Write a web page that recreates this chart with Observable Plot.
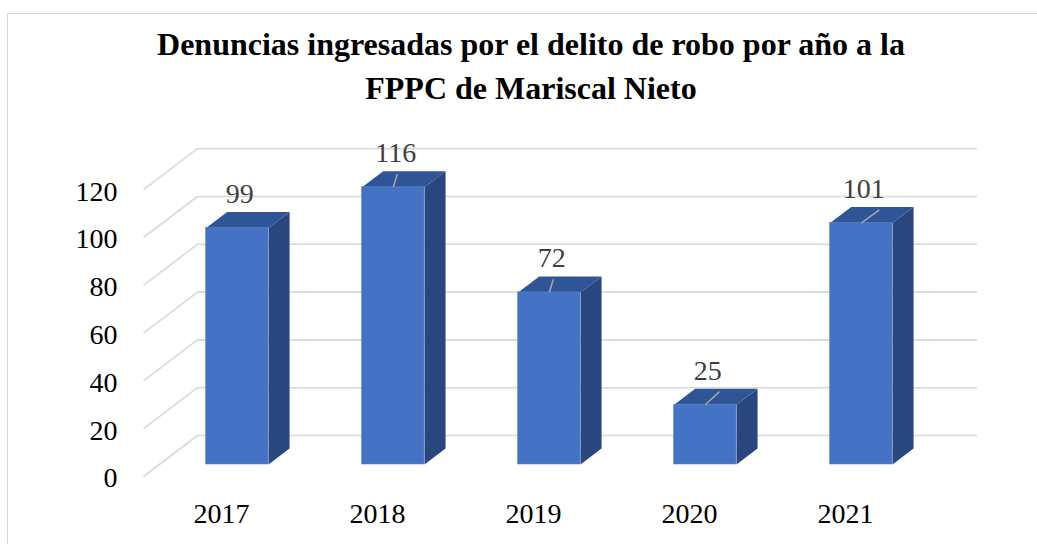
<!DOCTYPE html>
<html>
<head>
<meta charset="utf-8">
<script src="https://cdn.jsdelivr.net/npm/d3@7"></script>
<script src="https://cdn.jsdelivr.net/npm/@observablehq/plot@0.6"></script>
<style>
  html, body { margin: 0; padding: 0; background: #fff; overflow: hidden; }
  #wrap { position: relative; width: 1037px; height: 544px; overflow: hidden; }
  #frame { position: absolute; left: 7px; top: 13px; width: 1200px; height: 700px; border: 1px solid #d9d9d9; }
  #title { position: absolute; left: 31px; top: 22px; width: 1000px; text-align: center;
           font-family: "Liberation Serif", "Times New Roman", Tinos, "DejaVu Serif", serif; font-weight: bold;
           font-size: 32px; line-height: 44px; color: #000; }
  #chart { position: absolute; left: 0; top: 0; }
</style>
</head>
<body>
<div id="wrap">
  <div id="frame"></div>
  <div id="title">Denuncias ingresadas por el delito de robo por año a la<br>FPPC de Mariscal Nieto</div>
  <div id="chart"></div>
</div>
<script>
// ---- data ----
const years = ["2017", "2018", "2019", "2020", "2021"];
const values = [99, 116, 72, 25, 101];
const tickValues = [0, 20, 40, 60, 80, 100, 120];
const leaderShown = [false, true, true, true, true];
const leaderLean = [0, 0.026, 0.026, 0.09, 0.115];

// ---- 3D projection constants (in scale units) ----
const DX = 0.346;   // depth shift along x (category units)
const DY = 17.15;   // depth shift along y (value units)
const D0 = 0.293;   // bar front depth
const D1 = 0.683;   // bar back depth
const HALF = 0.2;   // half bar width

const bars = years.map((year, i) => ({year, i, v: values[i], xc: i + 0.5}));

const topPoly = [], sidePoly = [];
for (const b of bars) {
  const xl = b.xc - HALF, xr = b.xc + HALF;
  topPoly.push(
    {id: b.year, x: xl + D0 * DX, y: b.v + D0 * DY},
    {id: b.year, x: xr + D0 * DX, y: b.v + D0 * DY},
    {id: b.year, x: xr + D1 * DX, y: b.v + D1 * DY},
    {id: b.year, x: xl + D1 * DX, y: b.v + D1 * DY}
  );
  sidePoly.push(
    {id: b.year, x: xr + D0 * DX, y: D0 * DY},
    {id: b.year, x: xr + D1 * DX, y: D1 * DY},
    {id: b.year, x: xr + D1 * DX, y: b.v + D1 * DY},
    {id: b.year, x: xr + D0 * DX, y: b.v + D0 * DY}
  );
}
const leaders = bars.filter(b => leaderShown[b.i]);

const serif = "Liberation Serif, Times New Roman, Tinos, DejaVu Serif, serif";
const grid = "#d9d9d9";

const chart = Plot.plot({
  width: 1037,
  height: 544,
  style: {fontFamily: serif},
  x: {type: "linear", domain: [0, 5 + DX], range: [143, 143 + (5 + DX) * 156], axis: null},
  y: {type: "linear", domain: [0, 140], range: [476, 476 - 140 * 2.39], axis: null},
  marks: [
    Plot.ruleY(tickValues, {y: t => t + DY, x1: () => DX, x2: () => 5 + DX, stroke: grid, strokeWidth: 1.6}),
    Plot.link(tickValues, {x1: () => 0, y1: t => t, x2: () => DX, y2: t => t + DY, stroke: grid, strokeWidth: 1.6}),
    Plot.line(sidePoly, {x: "x", y: "y", z: "id", fill: "#29477e", stroke: "none"}),
    Plot.line(topPoly, {x: "x", y: "y", z: "id", fill: "#2f5597", stroke: "none"}),
    Plot.rect(bars, {
      x1: d => d.xc - HALF + D0 * DX, x2: d => d.xc + HALF + D0 * DX,
      y1: () => D0 * DY, y2: d => d.v + D0 * DY,
      fill: "#4472c4", stroke: "#5b84cc", strokeWidth: 0.6, inset: 0
    }),
    Plot.link(leaders, {
      x1: d => d.xc + D0 * DX, y1: d => d.v + D0 * DY,
      x2: d => d.xc + D0 * DX + leaderLean[d.i], y2: d => d.v + D0 * DY + 5.5,
      stroke: "#a6a6a6", strokeWidth: 1.5
    }),
    Plot.text(bars, {
      x: d => d.xc + D0 * DX + 0.015, y: d => d.v + D0 * DY, text: d => String(d.v),
      dy: -34, fill: "#404040", fontSize: 28, fontFamily: serif
    }),
    Plot.text(tickValues, {
      x: () => 0, y: t => t, text: t => String(t), textAnchor: "end",
      dx: -26, dy: 2, fill: "#000", fontSize: 28, fontFamily: serif
    }),
    Plot.text(bars, {
      x: "xc", y: () => 0, text: "year", dy: 38, fill: "#000", fontSize: 28, fontFamily: serif
    })
  ]
});
chart.style.background = "transparent";
document.getElementById("chart").appendChild(chart);
</script>
</body>
</html>
